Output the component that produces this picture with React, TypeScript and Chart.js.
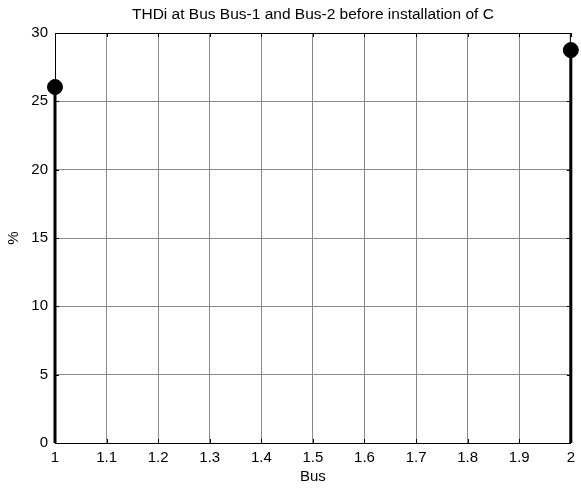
import React, { useEffect, useRef } from "react";
import { Chart, registerables } from "chart.js";

Chart.register(...registerables);

const buses = [1, 2];
const thdi = [26.05, 28.75];
const xTicks = [1, 1.1, 1.2, 1.3, 1.4, 1.5, 1.6, 1.7, 1.8, 1.9, 2];
const yTicks = [0, 5, 10, 15, 20, 25, 30];
const titleText = "THDi at Bus Bus-1 and Bus-2 before installation of C";

const FONT = "'Liberation Sans', Arial, sans-serif";
const GRID = "#8a8a8a";

const stemPlugin = {
  id: "stems",
  beforeDatasetsDraw(chart: any) {
    const { ctx, chartArea, scales } = chart;
    const xs = scales.x;
    const ys = scales.y;
    ctx.save();
    ctx.strokeStyle = "#000";
    ctx.lineWidth = 1;
    ctx.beginPath();
    ctx.moveTo(chartArea.left, chartArea.top + 0.5);
    ctx.lineTo(chartArea.right, chartArea.top + 0.5);
    ctx.moveTo(chartArea.right - 0.5, chartArea.top);
    ctx.lineTo(chartArea.right - 0.5, chartArea.bottom);
    ctx.stroke();
    ctx.beginPath();
    xTicks.forEach((v) => {
      const px = Math.round(xs.getPixelForValue(v)) + 0.5;
      ctx.moveTo(px, chartArea.bottom);
      ctx.lineTo(px, chartArea.bottom - 4);
      ctx.moveTo(px, chartArea.top);
      ctx.lineTo(px, chartArea.top + 4);
    });
    yTicks.forEach((v) => {
      const py = Math.round(ys.getPixelForValue(v)) + 0.5;
      ctx.moveTo(chartArea.left, py);
      ctx.lineTo(chartArea.left + 4, py);
      ctx.moveTo(chartArea.right, py);
      ctx.lineTo(chartArea.right - 4, py);
    });
    ctx.stroke();
    ctx.lineWidth = 3;
    ctx.beginPath();
    buses.forEach((b, i) => {
      const px = xs.getPixelForValue(b);
      ctx.moveTo(px, ys.getPixelForValue(0));
      ctx.lineTo(px, ys.getPixelForValue(thdi[i]));
    });
    ctx.stroke();
    ctx.restore();
  },
  afterDraw(chart: any) {
    const { ctx, chartArea } = chart;
    ctx.save();
    ctx.fillStyle = "#000";
    ctx.font = `15.5px ${FONT}`;
    ctx.textAlign = "center";
    ctx.textBaseline = "alphabetic";
    ctx.fillText(titleText, (chartArea.left + chartArea.right) / 2, 19);
    ctx.restore();
  },
};

export default function App() {
  const ref = useRef<HTMLCanvasElement>(null);
  useEffect(() => {
    const chart = new Chart(ref.current!, {
      type: "scatter",
      data: {
        datasets: [
          {
            data: buses.map((b, i) => ({ x: b, y: thdi[i] })),
            backgroundColor: "#000",
            borderColor: "#000",
            pointRadius: 7.5,
            pointHoverRadius: 7.5,
            clip: false,
          },
        ],
      },
      options: {
        responsive: false,
        animation: false,
        events: [],
        layout: { padding: { left: 0, right: 6, top: 33, bottom: 0 } },
        plugins: {
          legend: { display: false },
          tooltip: { enabled: false },
          title: { display: false },
        },
        scales: {
          x: {
            type: "linear",
            min: 1,
            max: 2,
            afterBuildTicks: (s: any) => {
              s.ticks = xTicks.map((v) => ({ value: v }));
            },
            afterFit: (s: any) => {
              s.height = 47;
            },
            ticks: {
              color: "#000",
              font: { family: FONT, size: 15 },
              padding: 6,
              maxRotation: 0,
              callback: (v: any) => String(Math.round(v * 10) / 10),
            },
            grid: { color: GRID, drawTicks: false },
            border: { color: "#000", width: 1 },
            title: {
              display: true,
              text: "Bus",
              color: "#000",
              font: { family: FONT, size: 15 },
              padding: { top: 0, bottom: 4 },
            },
          },
          y: {
            type: "linear",
            min: 0,
            max: 30,
            afterBuildTicks: (s: any) => {
              s.ticks = yTicks.map((v) => ({ value: v }));
            },
            afterFit: (s: any) => {
              s.width = 55;
            },
            ticks: {
              color: "#000",
              font: { family: FONT, size: 15 },
              padding: 7,
            },
            grid: { color: GRID, drawTicks: false },
            border: { color: "#000", width: 1 },
            title: {
              display: true,
              text: "%",
              color: "#000",
              font: { family: FONT, size: 15 },
              padding: { top: 5, bottom: 0 },
            },
          },
        },
      },
      plugins: [stemPlugin],
    } as any);
    return () => chart.destroy();
  }, []);
  return (
    <div style={{ position: "fixed", left: 0, top: 0, width: 581, height: 490, background: "#fff" }}>
      <canvas ref={ref} width={581} height={490} style={{ width: 581, height: 490 }} />
    </div>
  );
}
